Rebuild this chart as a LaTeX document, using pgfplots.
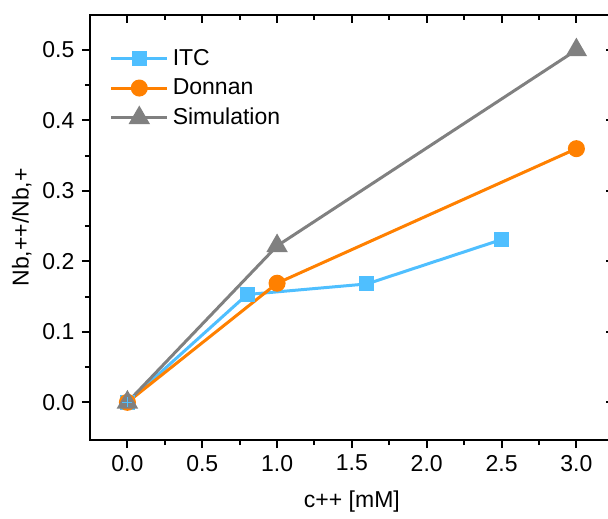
\documentclass[border=0pt]{standalone}
\usepackage{fontspec}
\setmainfont{Liberation Sans}
\usepackage{pgfplots}
\pgfplotsset{compat=1.18}
\definecolor{itcblue}{HTML}{4FBFFF}
\definecolor{donorange}{HTML}{FF8000}
\definecolor{simgray}{HTML}{808080}

\pgfplotsset{
  base/.style={
    scale only axis,
    width=261.9pt, height=212.6pt,
    xmin=-0.25, xmax=3.25,
    ymin=-0.0535, ymax=0.55,
    xtick={0,0.5,...,3.0},
    ytick={0,0.1,...,0.5},
    minor x tick num=1,
    minor y tick num=1,
    major tick length=4pt,
    minor tick length=2.5pt,
    axis line style={line width=1pt},
    every tick/.style={black, line width=1pt},
    font=\fontsize{11.5}{13.5}\selectfont,
    /pgf/number format/assume math mode=true,
    /pgf/number format/.cd, fixed, fixed zerofill, precision=1,
  },
}

\begin{document}
\begin{tikzpicture}
\begin{axis}[
  base,
  name=main,
  tick align=outside,
  xtick pos=left, ytick pos=left,
  yticklabel style={xshift=-0.3pt},
  xlabel={c++ [mM]},
  ylabel={Nb,++/Nb,+},
  xlabel style={yshift=-3pt},
  ylabel style={yshift=-1.5pt},
  legend style={draw=none, fill=none, at={(0.037,0.93)}, anchor=north west,
    row sep=1.3pt, inner sep=0pt, font=\fontsize{11.5}{13.5}\selectfont},
  legend cell align=left,
  legend image code/.code={
    \draw[mark repeat=2, mark phase=2] plot coordinates {(0pt,0pt) (14pt,0pt) (28pt,0pt)};
  },
]
\addplot[color=itcblue, line width=1.5pt, mark=square*, mark size=3pt,
  mark options={solid, fill=itcblue, draw=itcblue}]
  coordinates {(0,0) (0.8,0.153) (1.6,0.168) (2.5,0.231)};
\addlegendentry{ITC}
\addplot[color=donorange, line width=1.5pt, mark=*, mark size=3.5pt,
  mark options={solid, fill=donorange, draw=donorange}]
  coordinates {(0,0) (1.0,0.169) (3.0,0.36)};
\addlegendentry{Donnan}
\addplot[color=simgray, line width=1.5pt, mark=triangle*, mark size=4.7pt,
  mark options={solid, fill=simgray, draw=simgray}]
  coordinates {(0,0) (1.0,0.222) (3.0,0.5)};
\addlegendentry{Simulation}
\addplot[forget plot, color=itcblue, only marks, mark=+, mark size=2.5pt,
  mark options={line width=0.6pt}]
  coordinates {(0,0)};
\end{axis}
\begin{axis}[
  base,
  tick align=inside,
  xtick pos=right, ytick pos=right,
  xticklabels={}, yticklabels={},
]
\end{axis}
\pgfresetboundingbox
\path[use as bounding box] ([shift={(-45pt,-39pt)}]main.south west) rectangle ([shift={(259pt,220pt)}]main.south west);
\end{tikzpicture}
\end{document}
